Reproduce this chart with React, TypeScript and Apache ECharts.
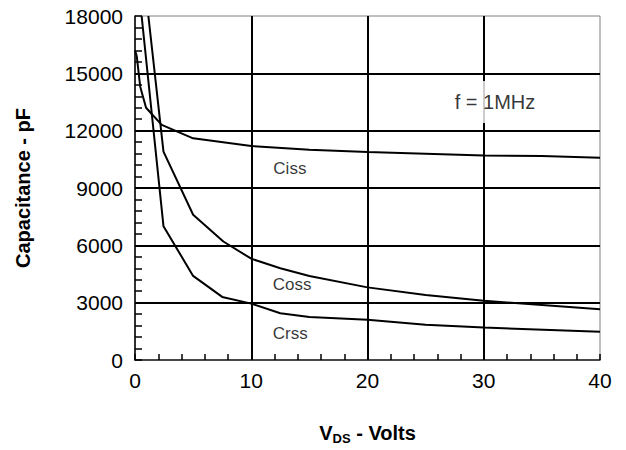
import React, { useEffect, useRef } from "react";
import * as echarts from "echarts";

// Capacitance vs. V_DS (x in Volts, y in pF)
const cissData: [number, number][] = [
  [0, 16200], [0.15, 15900], [0.45, 14300], [0.95, 13200], [2.3, 12300],
  [5, 11600], [10, 11200], [15, 11000], [20, 10880], [30, 10700], [35, 10680], [40, 10580],
];
const cossData: [number, number][] = [
  [1.15, 18000], [2.45, 10900], [5, 7600], [7.6, 6200], [10, 5300], [12.5, 4800],
  [15, 4400], [20, 3800], [25, 3400], [30, 3100], [40, 2650],
];
const crssData: [number, number][] = [
  [0.57, 18000], [2.45, 7000], [5, 4400], [7.5, 3300], [10, 2950], [12.5, 2450],
  [15, 2250], [20, 2100], [25, 1850], [30, 1700], [40, 1480],
];

const curveLabels = ["Ciss", "Coss", "Crss"];
const curveLabelPos: [number, number][] = [[11.9, 10000], [11.85, 3950], [11.85, 1370]];
const noteText = "f = 1MHz";
const notePos: [number, number] = [27.5, 13500];

const xMin = 0, xMax = 40, xStep = 10;
const yMin = 0, yMax = 18000, yStep = 3000;

const FONT = "Arial, 'Liberation Sans', Helvetica, sans-serif";

export default function App() {
  const ref = useRef<HTMLDivElement>(null);
  useEffect(() => {
    if (!ref.current) return;
    const chart = echarts.init(ref.current, undefined, { renderer: "svg" });
    const lineSeries = (name: string, data: [number, number][]) => ({
      name,
      type: "line",
      data,
      symbol: "none",
      clip: true,
      lineStyle: { color: "#000", width: 2 },
      z: 3,
    });
    chart.setOption({
      animation: false,
      backgroundColor: "#fff",
      textStyle: { fontFamily: FONT },
      grid: {
        left: 135, right: 26, top: 16, bottom: 87,
        show: true, borderColor: "#808080", borderWidth: 1, backgroundColor: "transparent",
      },
      xAxis: {
        type: "value", min: xMin, max: xMax, interval: xStep,
        axisLine: { show: true, lineStyle: { color: "#222", width: 1.5 } },
        axisTick: { show: true, inside: true, length: 6, lineStyle: { color: "#000", width: 1.5 } },
        minorTick: { show: true, splitNumber: 5, length: 6, lineStyle: { color: "#000", width: 1.5 } },
        splitLine: { show: true, showMinLine: false, showMaxLine: false, lineStyle: { color: "#000", width: 2 } },
        axisLabel: { color: "#000", fontSize: 21, margin: 10, fontFamily: FONT, formatter: (v: number) => String(v) },
        name: "{v|V}{s|DS}{v| - Volts}",
        nameLocation: "middle",
        nameGap: 61,
        nameTextStyle: {
          rich: {
            v: { fontSize: 20, fontWeight: "bold", color: "#000", fontFamily: FONT },
            s: { fontSize: 13, fontWeight: "bold", color: "#000", fontFamily: FONT, padding: [11, 0, 0, 0] },
          },
        },
      },
      yAxis: {
        type: "value", min: yMin, max: yMax, interval: yStep,
        axisLine: { show: true, lineStyle: { color: "#000", width: 1.5 } },
        axisTick: { show: true, inside: true, length: 7, lineStyle: { color: "#000", width: 1.5 } },
        minorTick: { show: true, splitNumber: 5, length: 7, lineStyle: { color: "#000", width: 1.5 } },
        splitLine: { show: true, showMinLine: false, showMaxLine: false, lineStyle: { color: "#000", width: 2 } },
        axisLabel: { color: "#000", fontSize: 21, margin: 12, fontFamily: FONT, formatter: (v: number) => String(v) },
        name: "Capacitance - pF",
        nameLocation: "middle",
        nameGap: 102,
        nameTextStyle: { fontSize: 20, fontWeight: "bold", color: "#000", fontFamily: FONT },
      },
      series: [
        lineSeries("Ciss", cissData),
        lineSeries("Coss", cossData),
        lineSeries("Crss", crssData),
        {
          type: "scatter",
          symbolSize: 0,
          silent: true,
          z: 4,
          data: curveLabelPos.map((p, i) => ({ value: p, name: curveLabels[i] })),
          label: {
            show: true, position: "right", distance: 0, formatter: "{b}",
            color: "#000", fontSize: 17, fontFamily: FONT,
          },
        },
        {
          type: "scatter",
          symbolSize: 0,
          silent: true,
          z: 5,
          data: [{ value: notePos, name: noteText }],
          label: {
            show: true, position: "right", distance: 0, formatter: "{b}",
            color: "#000", fontSize: 20, fontFamily: FONT,
            backgroundColor: "#fff", padding: [11, 4, 11, 0],
          },
        },
      ],
    });
    return () => chart.dispose();
  }, []);
  return <div ref={ref} style={{ position: "absolute", left: 0, top: 0, width: 626, height: 450 }} />;
}
